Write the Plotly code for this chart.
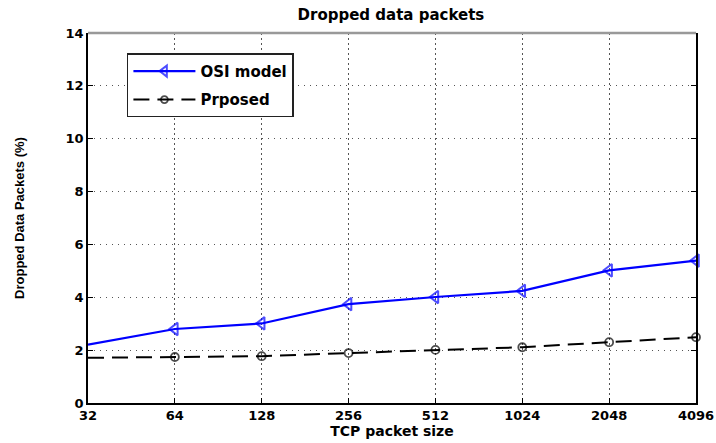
import plotly.graph_objects as go

packet_sizes = ["32", "64", "128", "256", "512", "1024", "2048", "4096"]
osi_model = [2.21, 2.80, 3.01, 3.74, 4.01, 4.24, 5.02, 5.39]
proposed = [1.71, 1.74, 1.77, 1.89, 2.01, 2.11, 2.30, 2.49]
y_ticks = [0, 2, 4, 6, 8, 10, 12, 14]

BOLD = "DejaVu Sans, Verdana, sans-serif"

fig = go.Figure()
fig.add_trace(go.Scatter(
    x=packet_sizes, y=osi_model, name="OSI model", mode="lines+markers",
    legendgroup="a",
    line=dict(color="#0000ff", width=2.2),
    marker=dict(symbol="triangle-left-open", size=[0] + [11] * 7, color="#0000ff",
                line=dict(width=2, color="#0000ff")),
    cliponaxis=False,
))
fig.add_trace(go.Scatter(
    x=packet_sizes, y=proposed, name="Prposed", mode="lines+markers",
    legendgroup="b",
    line=dict(color="black", width=2, dash="16px,8px"),
    marker=dict(symbol="circle-open", size=[0] + [8] * 7, color="black",
                line=dict(width=1.8, color="black")),
    cliponaxis=False,
))

common = dict(showgrid=True, gridcolor="#555", gridwidth=1,
              showline=True, linecolor="black", linewidth=1.5, automargin=False,
              ticks="inside", ticklen=5, tickcolor="black", zeroline=False,
              tickfont=dict(family=BOLD, size=13, color="black", weight="bold"))

fig.update_layout(
    width=716, height=443,
    margin=dict(l=88, r=20, t=33, b=40),
    paper_bgcolor="white", plot_bgcolor="white",
    title=dict(text="Dropped data packets", x=0.546, xanchor="center", y=0.966, yanchor="middle",
               font=dict(family=BOLD, size=15, color="black", weight="bold")),
    xaxis=dict(type="category", range=[0, 7], categoryorder="array", categoryarray=packet_sizes,
               griddash="2px,3px", mirror=False,
               title=dict(text="TCP packet size", standoff=2,
                          font=dict(family=BOLD, size=14, color="black", weight="bold")),
               **common),
    yaxis=dict(range=[0, 14], tickvals=y_ticks, griddash="1px,5px", mirror="ticks",
               title=dict(text="Dropped Data Packets (%)", standoff=38,
                          font=dict(family="Liberation Sans, Arial, sans-serif", size=13,
                                    color="black", weight="bold")),
               **common),
    shapes=[dict(type="line", xref="paper", yref="paper", x0=0, x1=1, y0=1, y1=1,
                 line=dict(color="#999", width=2.5), layer="above")],
    showlegend=True,
    legend=dict(x=0.064, y=0.945, xanchor="left", yanchor="top",
                bgcolor="white", bordercolor="#222", borderwidth=1.5,
                itemwidth=62, traceorder="grouped", tracegroupgap=6,
                font=dict(family=BOLD, size=15, color="black", weight="bold")),
)

fig.write_html("out.html")
